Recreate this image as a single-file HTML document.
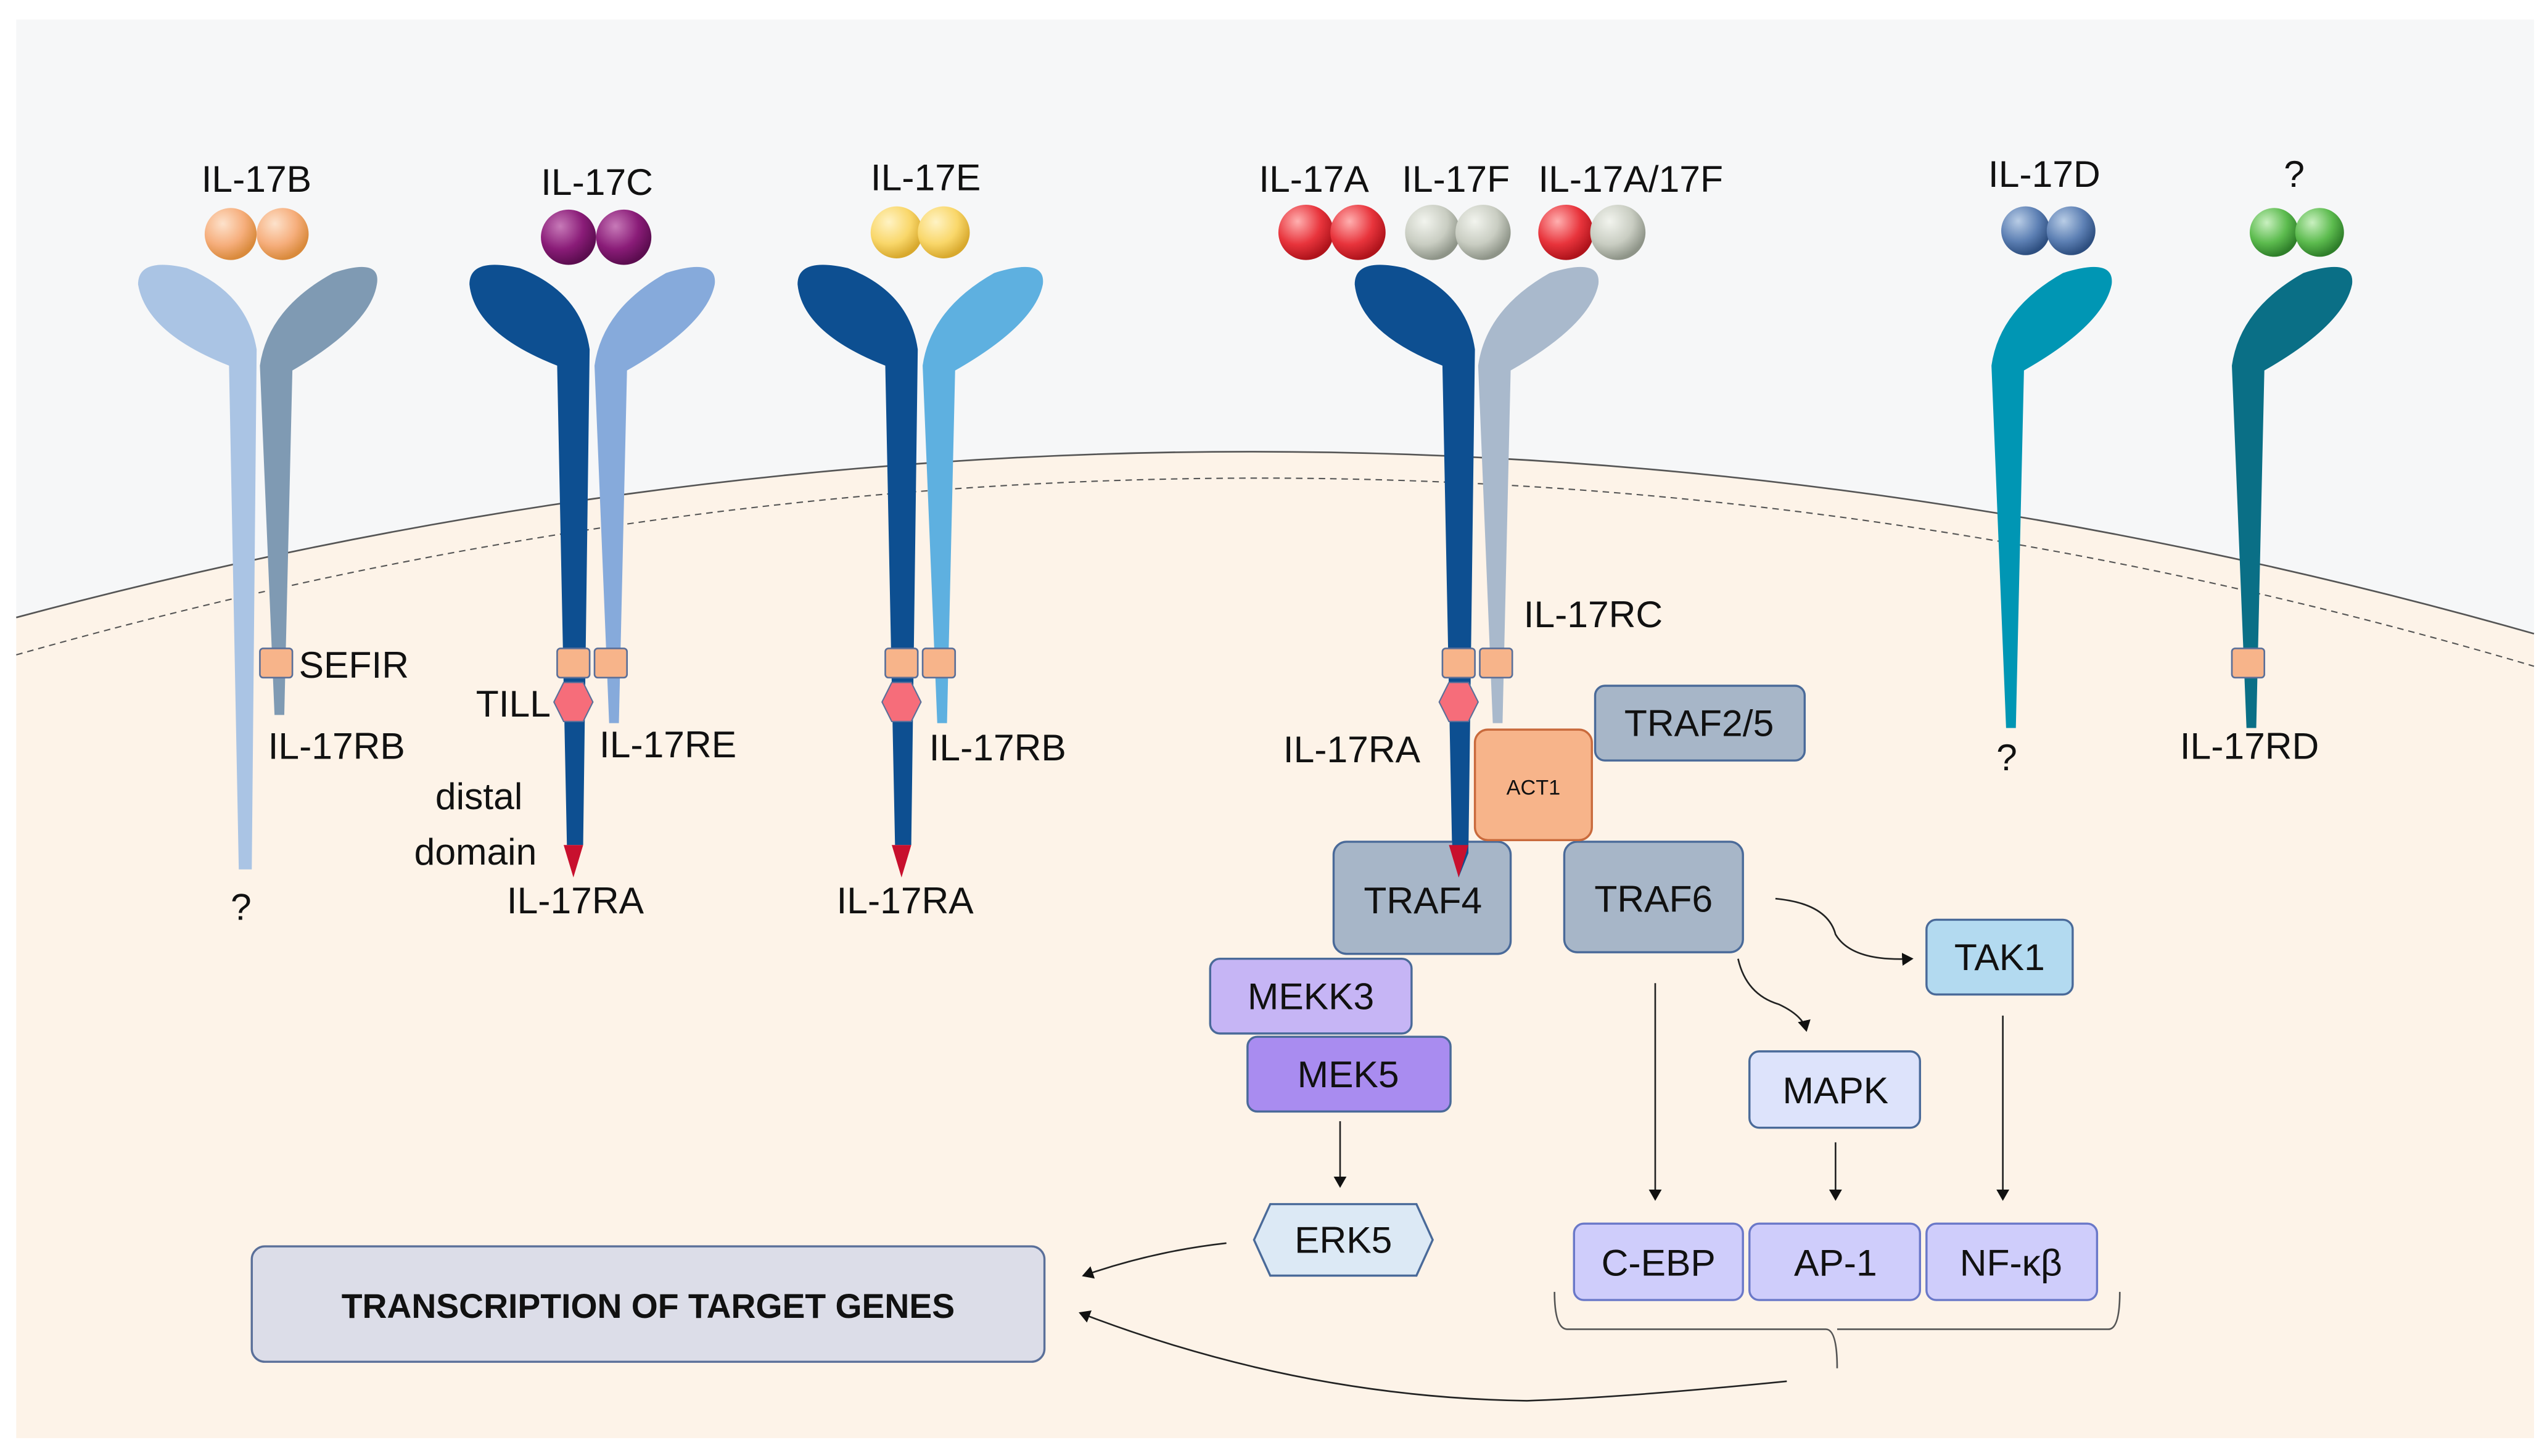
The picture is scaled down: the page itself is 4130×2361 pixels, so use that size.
<!DOCTYPE html>
<html><head><meta charset="utf-8"><style>
html,body{margin:0;padding:0;background:#fff;}
svg{display:block;}
text{font-family:"Liberation Sans","DejaVu Sans",sans-serif;fill:#111;}
</style></head><body>
<svg width="4130" height="2361" viewBox="0 0 1568 896" preserveAspectRatio="none">
<defs>
<marker id="ah" markerWidth="8" markerHeight="8" refX="6" refY="4" orient="auto" markerUnits="userSpaceOnUse"><path d="M0,0 L7,4 L0,8 Z" fill="#111"/></marker>
<radialGradient id="gO" cx="35%" cy="30%" r="70%"><stop offset="0" stop-color="#fde2cc"/><stop offset=".6" stop-color="#f6ae7c"/><stop offset="1" stop-color="#d98a3c"/></radialGradient>
<radialGradient id="gP" cx="35%" cy="30%" r="70%"><stop offset="0" stop-color="#c77ab8"/><stop offset=".6" stop-color="#8a1c78"/><stop offset="1" stop-color="#5c0d50"/></radialGradient>
<radialGradient id="gY" cx="35%" cy="30%" r="70%"><stop offset="0" stop-color="#fff3c4"/><stop offset=".6" stop-color="#f9d76a"/><stop offset="1" stop-color="#d8a92e"/></radialGradient>
<radialGradient id="gR" cx="35%" cy="30%" r="70%"><stop offset="0" stop-color="#ffb0b0"/><stop offset=".6" stop-color="#e8343c"/><stop offset="1" stop-color="#b0141c"/></radialGradient>
<radialGradient id="gG" cx="35%" cy="30%" r="70%"><stop offset="0" stop-color="#f2f4ee"/><stop offset=".6" stop-color="#c9cdc2"/><stop offset="1" stop-color="#8e9488"/></radialGradient>
<radialGradient id="gB" cx="35%" cy="30%" r="70%"><stop offset="0" stop-color="#b9cde6"/><stop offset=".6" stop-color="#5d80b4"/><stop offset="1" stop-color="#2e4f80"/></radialGradient>
<radialGradient id="gGr" cx="35%" cy="30%" r="70%"><stop offset="0" stop-color="#c9f0c0"/><stop offset=".6" stop-color="#5cbb4e"/><stop offset="1" stop-color="#2f7f2a"/></radialGradient>
</defs>
<rect x="10" y="12" width="1550" height="873" fill="#f6f7f8"/>
<path d="M10,380 Q790,171 1560,390 L1560,885 L10,885 Z" fill="#fdf3e8"/>
<path d="M10,380 Q790,171 1560,390" fill="none" stroke="#555" stroke-width="1"/>
<path d="M10,403 Q790,182 1560,410" fill="none" stroke="#555" stroke-width="0.8" stroke-dasharray="4,3"/>

<path d="M147,535 L141,225 Q90,205 85,175 Q85,158 115,165 Q152,180 158,215 L155,535 Z" fill="#aac4e4"/>
<path d="M169,440 L160,225 Q165,190 205,168 Q235,158 232,175 Q228,200 180,228 L175,440 Z" fill="#7f9ab3"/>
<path d="M349,520 L343,225 Q292,205 289,175 Q289,158 320,165 Q358,180 363,215 L359,520 Z" fill="#0d4f91"/>
<path d="M375,445 L366,225 Q371,190 410,168 Q442,158 440,175 Q435,200 386,228 L381,445 Z" fill="#86aadb"/>
<path d="M551,520 L545,225 Q494,205 491,175 Q491,158 522,165 Q560,180 565,215 L561,520 Z" fill="#0d4f91"/>
<path d="M577,445 L568,225 Q573,190 612,168 Q644,158 642,175 Q637,200 588,228 L583,445 Z" fill="#5eb0e0"/>
<path d="M894,525 L888,225 Q837,205 834,175 Q834,158 865,165 Q903,180 908,215 L904,525 Z" fill="#0d4f91"/>
<path d="M919,445 L910,225 Q915,190 954,168 Q986,158 984,175 Q979,200 930,228 L925,445 Z" fill="#a9b9cc"/>
<path d="M1235,448 L1226,225 Q1231,190 1270,168 Q1302,158 1300,175 Q1295,200 1246,228 L1241,448 Z" fill="#0096b4"/>
<path d="M1383,448 L1374,225 Q1379,190 1418,168 Q1450,158 1448,175 Q1443,200 1394,228 L1389,448 Z" fill="#0a6f86"/>

<path d="M347,520 L359,520 L353,540 Z" fill="#c8102e"/>
<path d="M549,520 L561,520 L555,540 Z" fill="#c8102e"/>

<g fill="#f7b48a" stroke="#5a6f99" stroke-width="1">
<rect x="160" y="399" width="20" height="18" rx="2"/>
<rect x="343" y="399" width="20" height="18" rx="2"/>
<rect x="366" y="399" width="20" height="18" rx="2"/>
<rect x="545" y="399" width="20" height="18" rx="2"/>
<rect x="568" y="399" width="20" height="18" rx="2"/>
<rect x="888" y="399" width="20" height="18" rx="2"/>
<rect x="911" y="399" width="20" height="18" rx="2"/>
<rect x="1374" y="399" width="20" height="18" rx="2"/>
</g>
<g fill="#f66d7a" stroke="#5a6f99" stroke-width="0.8">
<path d="M347,420 L359,420 L365,432 L359,444 L347,444 L341,432 Z"/>
<path d="M549,420 L561,420 L567,432 L561,444 L549,444 L543,432 Z"/>
<path d="M892,420 L904,420 L910,432 L904,444 L892,444 L886,432 Z"/>
</g>

<circle cx="142" cy="144" r="16" fill="url(#gO)"/><circle cx="174" cy="144" r="16" fill="url(#gO)"/>
<circle cx="350" cy="146" r="17" fill="url(#gP)"/><circle cx="384" cy="146" r="17" fill="url(#gP)"/>
<circle cx="552" cy="143" r="16" fill="url(#gY)"/><circle cx="581" cy="143" r="16" fill="url(#gY)"/>
<circle cx="804" cy="143" r="17" fill="url(#gR)"/><circle cx="836" cy="143" r="17" fill="url(#gR)"/>
<circle cx="882" cy="143" r="17" fill="url(#gG)"/><circle cx="913" cy="143" r="17" fill="url(#gG)"/>
<circle cx="964" cy="143" r="17" fill="url(#gR)"/><circle cx="996" cy="143" r="17" fill="url(#gG)"/>
<circle cx="1247" cy="142" r="15" fill="url(#gB)"/><circle cx="1275" cy="142" r="15" fill="url(#gB)"/>
<circle cx="1400" cy="143" r="15" fill="url(#gGr)"/><circle cx="1428" cy="143" r="15" fill="url(#gGr)"/>

<g font-size="23">
<text x="124" y="118">IL-17B</text>
<text x="333" y="120">IL-17C</text>
<text x="536" y="117">IL-17E</text>
<text x="775" y="118">IL-17A</text>
<text x="863" y="118">IL-17F</text>
<text x="947" y="118">IL-17A/17F</text>
<text x="1224" y="115">IL-17D</text>
<text x="1406" y="115">?</text>
<text x="184" y="417">SEFIR</text>
<text x="165" y="467">IL-17RB</text>
<text x="142" y="566">?</text>
<text x="293" y="441">TILL</text>
<text x="369" y="466">IL-17RE</text>
<text x="268" y="498">distal</text>
<text x="255" y="532">domain</text>
<text x="312" y="562">IL-17RA</text>
<text x="572" y="468">IL-17RB</text>
<text x="515" y="562">IL-17RA</text>
<text x="938" y="386">IL-17RC</text>
<text x="790" y="469">IL-17RA</text>
<text x="1229" y="474">?</text>
<text x="1342" y="467">IL-17RD</text>
</g>

<g stroke-width="1.3">
<rect x="982" y="422" width="129" height="46" rx="6" fill="#a7b6c8" stroke="#4a6a99"/>
<rect x="821" y="518" width="109" height="69" rx="8" fill="#a7b6c8" stroke="#4a6a99"/>
<rect x="963" y="518" width="110" height="68" rx="8" fill="#a7b6c8" stroke="#4a6a99"/>
<rect x="908" y="449" width="72" height="68" rx="8" fill="#f7b48a" stroke="#c96a3c"/>
<rect x="1186" y="566" width="90" height="46" rx="6" fill="#b3daf0" stroke="#4a6a99"/>
<rect x="1077" y="647" width="105" height="47" rx="6" fill="#dde3fb" stroke="#4a6a99"/>
<rect x="745" y="590" width="124" height="46" rx="6" fill="#c6b5f5" stroke="#4a6a99"/>
<rect x="768" y="638" width="125" height="46" rx="6" fill="#a98cf0" stroke="#4a6a99"/>
<path d="M782,741 L872,741 L882,763 L872,785 L782,785 L772,763 Z" fill="#dce9f5" stroke="#4a6a99"/>
<rect x="969" y="753" width="104" height="47" rx="6" fill="#cfcdfb" stroke="#6a78c8"/>
<rect x="1077" y="753" width="105" height="47" rx="6" fill="#cfcdfb" stroke="#6a78c8"/>
<rect x="1186" y="753" width="105" height="47" rx="6" fill="#cfcdfb" stroke="#6a78c8"/>
<rect x="155" y="767" width="488" height="71" rx="8" fill="#dcdde8" stroke="#5a6f99"/>
</g>
<path d="M894,470 L904,470 L904,525 L898,540 L894,525 Z" fill="#0d4f91"/>
<path d="M892,520 L904,520 L898,540 Z" fill="#c8102e"/>

<g font-size="23" text-anchor="middle">
<text x="1046" y="453">TRAF2/5</text>
<text x="944" y="489" font-size="13">ACT1</text>
<text x="876" y="562">TRAF4</text>
<text x="1018" y="561">TRAF6</text>
<text x="1231" y="597">TAK1</text>
<text x="1130" y="679">MAPK</text>
<text x="807" y="621">MEKK3</text>
<text x="830" y="669">MEK5</text>
<text x="827" y="771">ERK5</text>
<text x="1021" y="785">C-EBP</text>
<text x="1130" y="785">AP-1</text>
<text x="1238" y="785">NF-κβ</text>
<text x="399" y="811" font-weight="bold" font-size="21">TRANSCRIPTION OF TARGET GENES</text>
</g>

<g stroke="#222" stroke-width="1" fill="none" marker-end="url(#ah)">
<line x1="825" y1="690" x2="825" y2="730"/>
<line x1="1019" y1="605" x2="1019" y2="738"/>
<line x1="1130" y1="703" x2="1130" y2="738"/>
<line x1="1233" y1="625" x2="1233" y2="738"/>
<path d="M1093,553 Q1125,556 1130,575 Q1140,592 1177,590"/>
<path d="M1070,590 Q1075,612 1095,618 Q1110,625 1112,634"/>
<path d="M755,765 Q710,770 667,785"/>
<path d="M1100,850 Q1000,860 940,862 Q800,860 665,808"/>
</g>
<path d="M957,795 Q957,818 965,818 L1124,818 Q1131,818 1131,842 M1131,818 Q1131,818 1138,818 L1298,818 Q1305,818 1305,795" fill="none" stroke="#555" stroke-width="1"/>
</svg>
</body></html>
